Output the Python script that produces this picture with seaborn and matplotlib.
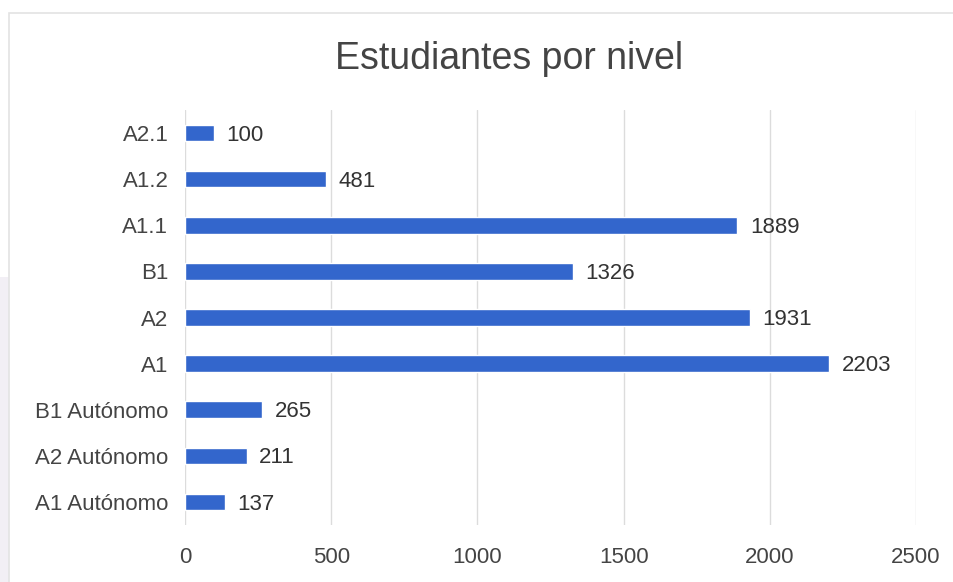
import matplotlib
matplotlib.use("Agg")
import matplotlib.pyplot as plt
import seaborn as sns
import pandas as pd
from matplotlib.patches import Rectangle

categories = ["A2.1", "A1.2", "A1.1", "B1", "A2", "A1",
              "B1 Autónomo", "A2 Autónomo", "A1 Autónomo"]
values = [100, 481, 1889, 1326, 1931, 2203, 265, 211, 137]
xticks = [0, 500, 1000, 1500, 2000, 2500]
title = "Estudiantes por nivel"

sns.set_theme(style="white")
plt.rcParams["font.family"] = ["Liberation Sans", "DejaVu Sans"]

df = pd.DataFrame({"nivel": categories, "estudiantes": values})

W, H = 954, 582
fig = plt.figure(figsize=(W / 100, H / 100), dpi=100)
fig.patch.set_facecolor("white")

# outer card decoration
fig.patches.append(Rectangle((0, 0), 9 / W, (H - 277) / H, transform=fig.transFigure,
                             facecolor="#f2eff5", edgecolor="none", zorder=-10))
fig.patches.append(Rectangle((9 / W, -0.01), 1.0, (H - 12.5) / H + 0.01, transform=fig.transFigure,
                             facecolor="white", edgecolor="#e3e3e3", linewidth=1.2, zorder=-10))

left, right = 185 / W, 916 / W
top, bottom = 110 / H, 525 / H
ax = fig.add_axes([left, 1 - bottom, right - left, bottom - top])
ax.set_facecolor("none")
ax.set_zorder(5)

sns.barplot(data=df, x="estudiantes", y="nivel", orient="h", color="#3366cc",
            width=0.36, saturation=1, ax=ax, zorder=3)

ax.set_xlim(0, 2500)
ax.set_ylim(len(categories) - 0.5, -0.5)
ax.set_xticks(xticks)
ax.set_xticklabels([str(t) for t in xticks])
ax.set_xlabel("")
ax.set_ylabel("")
for s in ax.spines.values():
    s.set_visible(False)
ax.grid(axis="x", color="#dcdcdc", linewidth=1.0, zorder=0)
ax.grid(axis="y", visible=False)
ax.set_axisbelow(True)
ax.tick_params(axis="both", length=0, labelsize=16, colors="#444444")
ax.tick_params(axis="x", pad=16)
ax.tick_params(axis="y", pad=12)

for cont in ax.containers:
    anns = ax.bar_label(cont, labels=[str(v) for v in values], padding=9,
                        fontsize=16, color="#333333")
    for a in anns:
        x0, y0 = a.xyann
        a.xyann = (x0, y0 - 1.5)

fig.text(509 / W, 1 - 69 / H, title, ha="center", va="baseline",
         fontsize=27, color="#444444")

fig.savefig("out.png", dpi=100, facecolor="white")
